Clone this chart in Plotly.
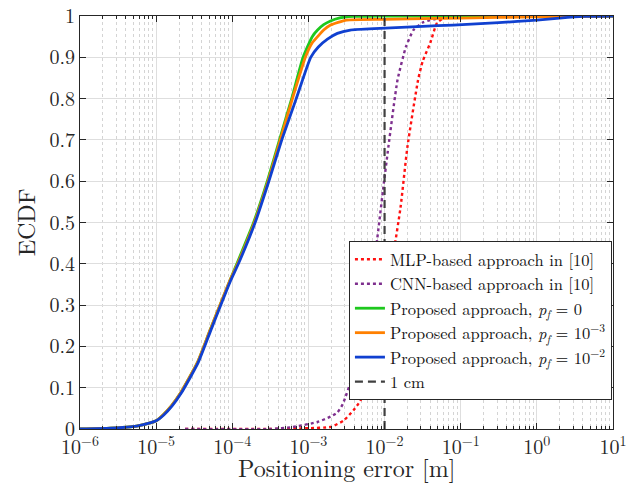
import numpy as np
import plotly.graph_objects as go

# ---------------- data (log10 of positioning error [m], ECDF) ----------------
mlp_log10_err = [-4.62, -3.5, -3.0, -2.71, -2.54, -2.41, -2.32, -2.15, -2.0, -1.89, -1.79, -1.70, -1.56, -1.50, -1.40, -1.31, -1.2, -1.0, 0.0, 1.0]
mlp_ecdf      = [0.0,   0.0,  0.002, 0.005, 0.02, 0.045, 0.068, 0.15, 0.28, 0.416, 0.537, 0.683, 0.845, 0.89, 0.935, 0.983, 0.997, 1.0, 1.0, 1.0]

cnn_log10_err = [-4.62, -3.5, -3.2, -2.88, -2.71, -2.62, -2.55, -2.4, -2.25, -2.12, -2.02, -1.95, -1.83, -1.72, -1.62, -1.49, -1.27, -1.0, 0.0, 1.0]
cnn_ecdf      = [0.0,   0.0,  0.005, 0.017, 0.03, 0.04, 0.06, 0.14, 0.27, 0.426, 0.579, 0.683, 0.845, 0.925, 0.966, 0.985, 0.995, 0.998, 1.0, 1.0]

pf0_log10_err = [-6.0, -5.6, -5.34, -5.18, -5.0, -4.91, -4.8, -4.68, -4.46, -4.29, -4.03, -3.94, -3.72, -3.54, -3.38, -3.22, -3.07, -2.95, -2.88, -2.80, -2.71, -2.6, -2.41, -2.0, 1.0]
pf0_ecdf      = [0.0, 0.002, 0.005, 0.01, 0.02, 0.034, 0.056, 0.087, 0.16, 0.24, 0.36, 0.40, 0.50, 0.60, 0.70, 0.80, 0.90, 0.95, 0.966, 0.979, 0.988, 0.995, 0.999, 1.0, 1.0]

pf3_log10_err = [-6.0, -5.6, -5.34, -5.18, -5.0, -4.91, -4.8, -4.68, -4.46, -4.29, -4.03, -3.93, -3.71, -3.53, -3.37, -3.21, -3.04, -2.95, -2.88, -2.80, -2.71, -2.5, -2.0, -1.0, 0.0, 1.0]
pf3_ecdf      = [0.0, 0.002, 0.005, 0.01, 0.02, 0.034, 0.056, 0.087, 0.16, 0.24, 0.36, 0.40, 0.50, 0.60, 0.70, 0.80, 0.90, 0.935, 0.95, 0.966, 0.978, 0.99, 0.992, 0.995, 0.998, 1.0]

pf2_log10_err = [-6.0, -5.6, -5.34, -5.18, -5.0, -4.90, -4.79, -4.67, -4.45, -4.28, -4.02, -3.92, -3.70, -3.52, -3.35, -3.16, -2.97, -2.87, -2.75, -2.62, -2.45, -2.06, -1.5, -1.1, -0.5, 0.0, 0.3, 0.6, 1.0]
pf2_ecdf      = [0.0, 0.002, 0.005, 0.01, 0.02, 0.034, 0.056, 0.087, 0.16, 0.24, 0.36, 0.40, 0.50, 0.60, 0.70, 0.80, 0.90, 0.925, 0.944, 0.958, 0.966, 0.970, 0.975, 0.978, 0.984, 0.99, 0.995, 0.999, 1.0]

one_cm_err = [0.01, 0.01]
one_cm_ecdf = [0.0, 1.0]

x_tick_exponents = [-6, -5, -4, -3, -2, -1, 0, 1]
x_tick_labels = ["10<sup>−6</sup>", "10<sup>−5</sup>", "10<sup>−4</sup>", "10<sup>−3</sup>",
                 "10<sup>−2</sup>", "10<sup>−1</sup>", "10<sup>0</sup>", "10<sup>1</sup>"]
y_ticks = [0, 0.1, 0.2, 0.3, 0.4, 0.5, 0.6, 0.7, 0.8, 0.9, 1]

names = [
    "MLP-based approach in [10]",
    "CNN-based approach in [10]",
    "Proposed approach, <i>p<sub>f</sub></i> = 0",
    "Proposed approach, <i>p<sub>f</sub></i> = 10<sup>−3</sup>",
    "Proposed approach, <i>p<sub>f</sub></i> = 10<sup>−2</sup>",
    "1 cm",
]
x_title = "Positioning error [m]"
y_title = "ECDF"

FONT = "Latin Modern Roman"

fig = go.Figure()

def add(logx, y, name, color, width, dash):
    fig.add_trace(go.Scatter(
        x=np.power(10.0, np.array(logx)), y=y, name=name, mode="lines",
        line=dict(color=color, width=width, dash=dash, shape="spline", smoothing=0.5),
    ))

add(mlp_log10_err, mlp_ecdf, names[0], "#ff1010", 2.4, "dot")
add(cnn_log10_err, cnn_ecdf, names[1], "#7e2f8e", 2.4, "dot")
add(pf0_log10_err, pf0_ecdf, names[2], "#1ec81e", 2.8, "solid")
add(pf3_log10_err, pf3_ecdf, names[3], "#ff8000", 2.8, "solid")
add(pf2_log10_err, pf2_ecdf, names[4], "#1040d0", 2.8, "solid")

fig.add_trace(go.Scatter(
    x=one_cm_err, y=one_cm_ecdf, name=names[5], mode="lines",
    line=dict(color="#404040", width=2.2, dash="8px,5px"),
))

minor_vals = [k * 10.0 ** e for e in range(-6, 1) for k in range(2, 10)]

# the page places the figure 8 px from the top-left corner of the window
fig.update_layout(
    width=628, height=483,
    margin=dict(l=72, r=23, t=8, b=62, autoexpand=False),
    paper_bgcolor="white", plot_bgcolor="white",
    font=dict(family=FONT, size=20, color="#262626"),
    showlegend=True,
    legend=dict(
        x=0.998, xanchor="right", y=0.07, yanchor="bottom",
        bgcolor="white", bordercolor="#262626", borderwidth=1,
        font=dict(family=FONT, size=16.5, color="#111111"),
        itemwidth=30,
    ),
    xaxis=dict(
        type="log", range=[-6, 1], automargin=True,
        tickmode="array", tickvals=[10.0 ** e for e in x_tick_exponents], ticktext=x_tick_labels,
        ticks="inside", ticklen=6, tickcolor="#262626", ticklabeloverflow="allow",
        showline=True, linecolor="#262626", linewidth=1, mirror="ticks",
        showgrid=True, gridcolor="#dedede", gridwidth=1,
        tickfont=dict(family=FONT, size=20, color="#262626"),
        minor=dict(tickmode="array", tickvals=minor_vals, ticks="inside", ticklen=3,
                   tickcolor="#262626", showgrid=True, gridcolor="#d4d4d4", griddash="dot", gridwidth=1),
        zeroline=False,
    ),
    yaxis=dict(
        range=[0, 1], automargin=True,
        tickmode="array", tickvals=y_ticks,
        ticks="inside", ticklen=6, tickcolor="#262626", ticklabeloverflow="allow",
        showline=True, linecolor="#262626", linewidth=1, mirror="ticks",
        showgrid=True, gridcolor="#dedede", gridwidth=1,
        tickfont=dict(family=FONT, size=20, color="#262626"),
        title=dict(text=y_title, font=dict(family=FONT, size=24, color="#262626"), standoff=9),
        zeroline=False,
    ),
    annotations=[dict(
        text=x_title, xref="paper", yref="paper", x=0.5, y=-0.092,
        xanchor="center", yanchor="middle", showarrow=False,
        font=dict(family=FONT, size=24, color="#262626"),
    )],
)

fig.write_html("out.html")
